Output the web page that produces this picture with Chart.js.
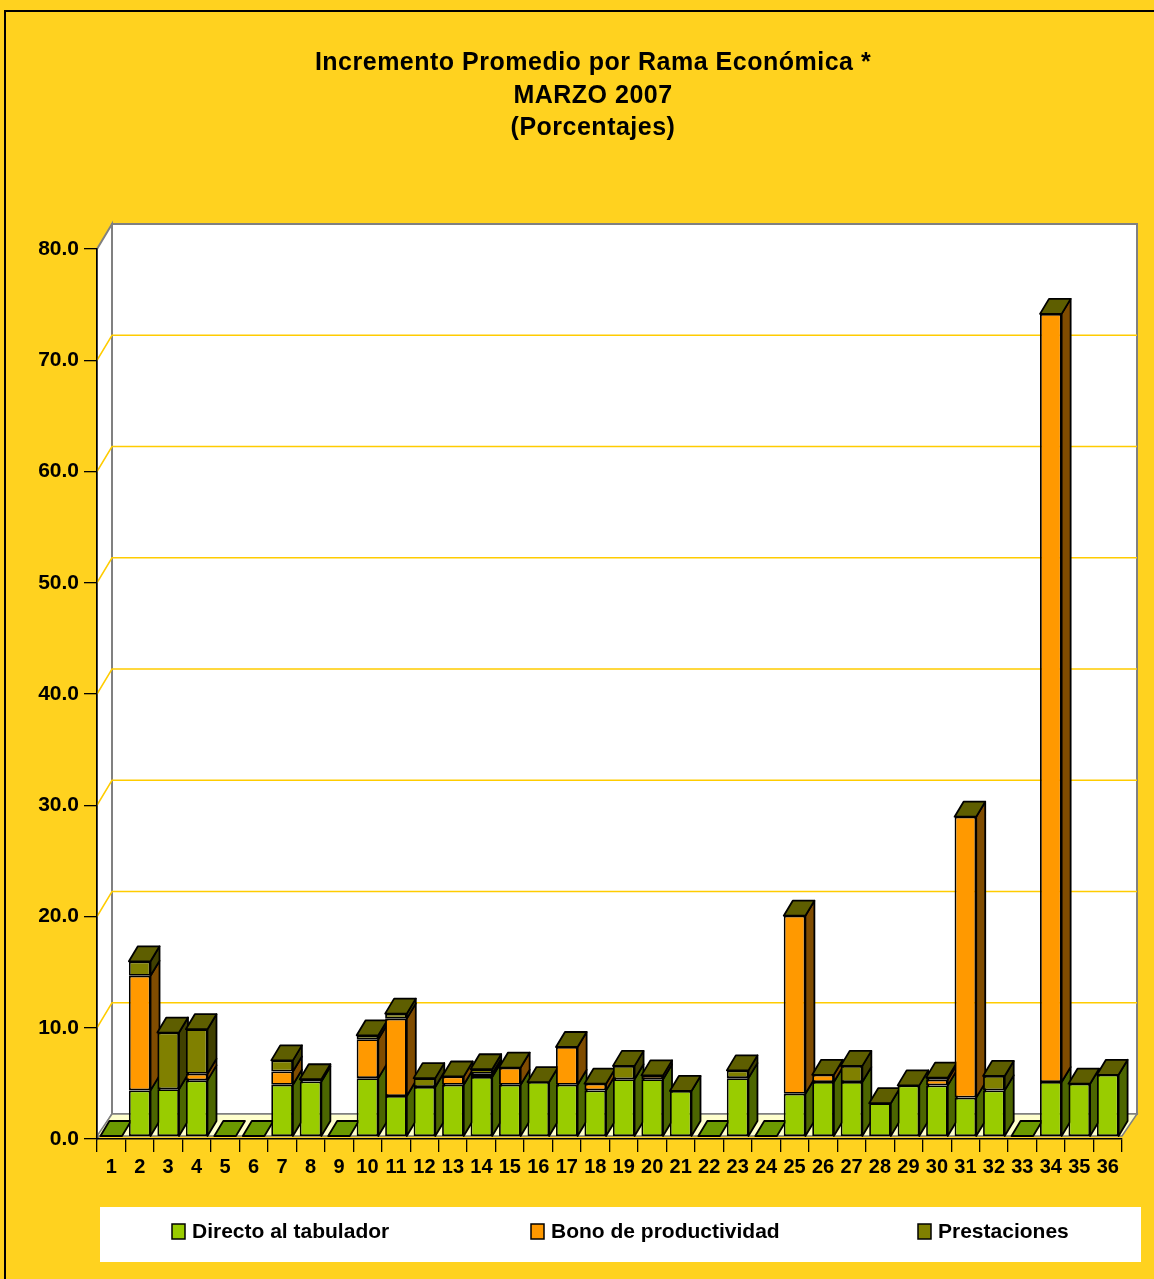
<!DOCTYPE html>
<html>
<head>
<meta charset="utf-8">
<script src="https://cdn.jsdelivr.net/npm/chart.js@4.4.0/dist/chart.umd.min.js"></script>
<style>
  html, body { margin: 0; padding: 0; background: #FFD21F; overflow: hidden; }
  #wrap { width: 1154px; height: 1279px; position: relative; }
</style>
</head>
<body>
<div id="wrap"><canvas id="chart"></canvas></div>
<script>
const categories = ["1","2","3","4","5","6","7","8","9","10","11","12","13","14","15","16","17","18",
  "19","20","21","22","23","24","25","26","27","28","29","30","31","32","33","34","35","36"];

const directo = [0, 4.1, 4.2, 5.0, 0, 0, 4.6, 4.9, 0, 5.2, 3.6, 4.4, 4.6, 5.3, 4.6, 4.85, 4.6, 4.1,
  5.1, 5.1, 4.05, 0, 5.2, 0, 3.8, 4.85, 4.85, 2.95, 4.55, 4.55, 3.45, 4.1, 0, 4.85, 4.7, 5.5];
const bono = [0, 10.3, 0, 0.6, 0, 0, 1.2, 0, 0, 3.5, 6.95, 0, 0.75, 0.3, 1.55, 0, 3.4, 0.6,
  0, 0.35, 0, 0, 0, 0, 16.0, 0.65, 0, 0, 0, 0.5, 25.25, 0, 0, 69.05, 0, 0];
const prestaciones = [0, 1.3, 5.1, 4.0, 0, 0, 1.0, 0.2, 0, 0.35, 0.45, 0.8, 0, 0.4, 0, 0, 0, 0,
  1.2, 0, 0, 0, 0.7, 0, 0, 0, 1.45, 0, 0, 0.2, 0, 1.3, 0, 0, 0, 0];

const seriesNames = ["Directo al tabulador", "Bono de productividad", "Prestaciones"];
const yTicks = [0, 10, 20, 30, 40, 50, 60, 70, 80];
const titleLines = ["Incremento Promedio por Rama Económica *", "MARZO 2007", "(Porcentajes)"];

const frontColors = ["#99CC00", "#FF9900", "#808000"];
const sideColors = ["#4C6600", "#804C00", "#404000"];
const topColor = "#5E5E00";
const zeroTopColor = "#6B9900";
const FONT = '"Liberation Sans", Arial, sans-serif';

// depth of bars and of the walls (3d look)
const DX = 9, DY = 15;
const WX = 15, WY = 25;

function quad(ctx, pts, fill) {
  ctx.beginPath();
  ctx.moveTo(pts[0][0], pts[0][1]);
  for (let k = 1; k < pts.length; k++) ctx.lineTo(pts[k][0], pts[k][1]);
  ctx.closePath();
  if (fill) { ctx.fillStyle = fill; ctx.fill(); }
  ctx.stroke();
}

const backdrop = {
  id: "backdrop",
  beforeDraw(chart) {
    const ctx = chart.ctx;
    const a = chart.chartArea;
    const y = chart.scales.y;
    const floorY = chart.scales.yb.getPixelForValue(0);
    ctx.save();
    ctx.fillStyle = "#FFD21F";
    ctx.fillRect(0, 0, chart.width, chart.height);
    ctx.strokeStyle = "#000";
    ctx.lineWidth = 2;
    ctx.strokeRect(5, 11, chart.width + 40, chart.height + 40);

    // walls
    ctx.strokeStyle = "#808080";
    ctx.lineWidth = 2;
    ctx.fillStyle = "#FFFFFF";
    ctx.fillRect(a.left + WX, a.top - WY, a.right - a.left, a.bottom - a.top);
    quad(ctx, [[a.left, a.top], [a.left + WX, a.top - WY], [a.left + WX, a.bottom - WY], [a.left, a.bottom]], "#FFFFFF");
    ctx.strokeRect(a.left + WX, a.top - WY, a.right - a.left, a.bottom - a.top);

    // gridlines on the walls
    ctx.strokeStyle = "#FFCC00";
    ctx.lineWidth = 1.5;
    yTicks.forEach(v => {
      if (v === 0 || v === 80) return;
      const py = y.getPixelForValue(v);
      ctx.beginPath();
      ctx.moveTo(a.left, py);
      ctx.lineTo(a.left + WX, py - WY);
      ctx.lineTo(a.right + WX, py - WY);
      ctx.stroke();
    });

    // floor
    ctx.strokeStyle = "#808080";
    ctx.lineWidth = 1.5;
    quad(ctx, [[a.left, floorY], [a.right, floorY], [a.right + WX, a.bottom - WY], [a.left + WX, a.bottom - WY]], "#FFFFCC");
    ctx.restore();
  },
  beforeDatasetsDraw(chart) {
    const ctx = chart.ctx;
    const metas = chart.data.datasets.map((d, i) => chart.getDatasetMeta(i));
    ctx.save();
    ctx.strokeStyle = "#000";
    ctx.lineWidth = 1.8;
    ctx.lineJoin = "round";
    for (let i = 0; i < categories.length; i++) {
      let top = Infinity, left = 0, right = 0, total = 0;
      metas.forEach((m, d) => {
        const p = m.data[i].getProps(["x", "y", "base", "width"], true);
        left = p.x - p.width / 2;
        right = p.x + p.width / 2;
        total += chart.data.datasets[d].data[i];
        if (Math.abs(p.base - p.y) > 0.5) {
          quad(ctx, [[right, p.y], [right + DX, p.y - DY], [right + DX, p.base - DY], [right, p.base]], sideColors[d]);
        }
        top = Math.min(top, p.y, p.base);
      });
      quad(ctx, [[left, top], [left + DX, top - DY], [right + DX, top - DY], [right, top]], total > 0 ? topColor : zeroTopColor);
    }
    ctx.restore();
  },
  afterDraw(chart) {
    const ctx = chart.ctx;
    ctx.save();
    ctx.fillStyle = "#000";
    ctx.textAlign = "center";
    ctx.textBaseline = "middle";
    ctx.font = "bold 25px " + FONT;
    ctx.letterSpacing = "0.5px";
    [63, 96, 128].forEach((ty, k) => ctx.fillText(titleLines[k], 593, ty));

    // legend
    ctx.fillStyle = "#FFFFFF";
    ctx.fillRect(100, 1207, 1041, 55);
    const lx = [172, 531, 918];
    ctx.font = "bold 21px " + FONT;
    ctx.letterSpacing = "0px";
    ctx.textAlign = "left";
    ctx.strokeStyle = "#000";
    ctx.lineWidth = 1.5;
    chart.data.datasets.forEach((ds, d) => {
      ctx.fillStyle = ds.backgroundColor;
      ctx.fillRect(lx[d], 1224, 13, 15);
      ctx.strokeRect(lx[d], 1224, 13, 15);
      ctx.fillStyle = "#000";
      ctx.fillText(ds.label, lx[d] + 20, 1232);
    });
    ctx.restore();
  }
};

const datasets = [directo, bono, prestaciones].map((vals, d) => ({
  label: seriesNames[d],
  data: vals,
  yAxisID: "yb",
  backgroundColor: frontColors[d],
  borderColor: "#000",
  borderWidth: 1.8,
  borderSkipped: false,
  categoryPercentage: 1,
  barPercentage: 0.76
}));

new Chart(document.getElementById("chart"), {
  type: "bar",
  data: { labels: categories, datasets },
  plugins: [backdrop],
  options: {
    responsive: true,
    maintainAspectRatio: false,
    animation: false,
    layout: { padding: { left: 0, right: 32, top: 249, bottom: 90 } },
    plugins: { legend: { display: false }, title: { display: false }, tooltip: { enabled: false } },
    scales: {
      x: {
        stacked: true,
        grid: { offset: true, drawOnChartArea: false, drawTicks: true, tickLength: 13, color: "#000", lineWidth: 1.3 },
        border: { display: true, color: "#000", width: 1.5 },
        ticks: { color: "#000", font: { family: FONT, size: 20, weight: "bold" }, padding: 3, maxRotation: 0, autoSkip: false },
        afterFit: s => { s.height = 50; }
      },
      y: {
        min: 0, max: 80,
        afterBuildTicks: s => { s.ticks = yTicks.map(v => ({ value: v })); },
        grid: { drawOnChartArea: false, drawTicks: true, tickLength: 13, color: "#000", lineWidth: 1.3 },
        border: { display: true, color: "#000", width: 1.5 },
        ticks: { color: "#000", font: { family: FONT, size: 21, weight: "bold" }, padding: 5, callback: v => v.toFixed(1) },
        afterFit: s => { s.width = 97; }
      },
      yb: {
        stacked: true,
        display: false,
        min: -0.27, max: 79.73
      }
    }
  }
});
</script>
</body>
</html>
